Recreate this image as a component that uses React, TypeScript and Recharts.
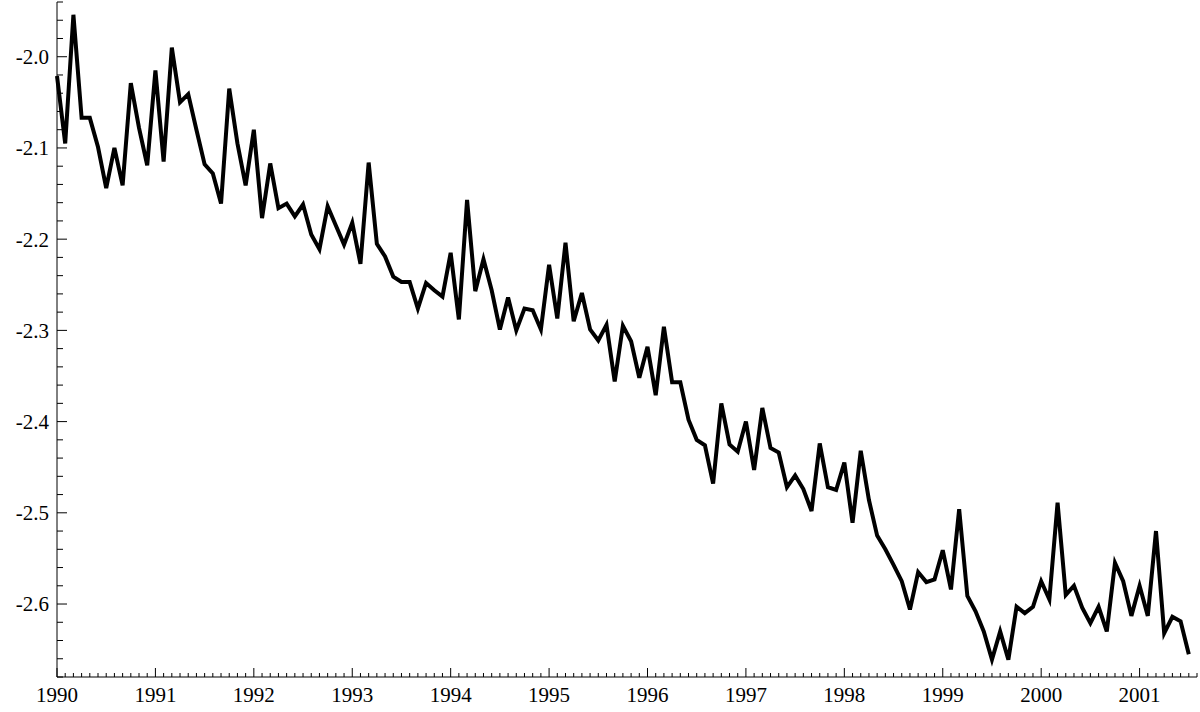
import React from 'react';
import { LineChart, Line, XAxis, YAxis } from 'recharts';

// monthly values, one array per year (Jan..Dec)
const y1990 = [-2.021, -2.095, -1.954, -2.067, -2.067, -2.099, -2.144, -2.100, -2.141, -2.029, -2.078, -2.119];
const y1991 = [-2.015, -2.115, -1.990, -2.050, -2.041, -2.080, -2.118, -2.128, -2.161, -2.035, -2.095, -2.141];
const y1992 = [-2.080, -2.177, -2.117, -2.166, -2.161, -2.175, -2.162, -2.195, -2.211, -2.164, -2.185, -2.206];
const y1993 = [-2.182, -2.227, -2.116, -2.205, -2.219, -2.241, -2.247, -2.247, -2.276, -2.248, -2.256, -2.263];
const y1994 = [-2.215, -2.288, -2.157, -2.257, -2.222, -2.256, -2.299, -2.264, -2.300, -2.276, -2.278, -2.299];
const y1995 = [-2.228, -2.287, -2.204, -2.290, -2.259, -2.299, -2.311, -2.294, -2.356, -2.295, -2.312, -2.352];
const y1996 = [-2.318, -2.371, -2.296, -2.357, -2.357, -2.398, -2.420, -2.426, -2.468, -2.380, -2.425, -2.433];
const y1997 = [-2.400, -2.453, -2.385, -2.429, -2.434, -2.472, -2.459, -2.474, -2.498, -2.424, -2.472, -2.475];
const y1998 = [-2.445, -2.511, -2.432, -2.486, -2.525, -2.540, -2.557, -2.575, -2.606, -2.565, -2.576, -2.573];
const y1999 = [-2.541, -2.584, -2.496, -2.591, -2.608, -2.630, -2.661, -2.630, -2.661, -2.603, -2.610, -2.603];
const y2000 = [-2.575, -2.595, -2.489, -2.590, -2.580, -2.604, -2.621, -2.603, -2.630, -2.555, -2.575, -2.613];
const y2001 = [-2.580, -2.613, -2.520, -2.632, -2.614, -2.619, -2.655];

const startYear = 1990;
const years = [y1990, y1991, y1992, y1993, y1994, y1995, y1996, y1997, y1998, y1999, y2000, y2001];

const data = years.flatMap((vals, yi) =>
  vals.map((v, m) => ({ month: yi * 12 + m, value: v }))
);

const lastMonth = 139;
const xTicks = Array.from({ length: lastMonth + 1 }, (_, i) => i);

const yTicks: number[] = [];
for (let k = -268; k <= -194; k += 2) yTicks.push(k / 100);

const font = '"Liberation Serif", "Times New Roman", serif';

const XTick = (props: any) => {
  const { x, y, payload } = props;
  const i = payload.value as number;
  const major = i % 12 === 0;
  return (
    <g>
      <line x1={x} x2={x} y1={y} y2={y - (major ? 9 : 4)} stroke="#000" strokeWidth={1} />
      {major && (
        <text x={x} y={y + 25} textAnchor="middle" fontFamily={font} fontSize={21} fill="#000">
          {startYear + i / 12}
        </text>
      )}
    </g>
  );
};

const YTick = (props: any) => {
  const { x, y, payload } = props;
  const v = payload.value as number;
  const major = Math.round(v * 100) % 10 === 0;
  return (
    <g>
      <line x1={x} x2={x + (major ? 10 : 6)} y1={y} y2={y} stroke="#000" strokeWidth={1} />
      {major && (
        <text x={x - 8} y={y} dy="0.35em" textAnchor="end" fontFamily={font} fontSize={21} fill="#000">
          {v.toFixed(1)}
        </text>
      )}
    </g>
  );
};

export default function App() {
  return (
    <div style={{ position: 'absolute', left: 0, top: 0, background: '#fff' }}>
      <LineChart width={1200} height={712} data={data} margin={{ top: 2, right: 3, bottom: 0, left: 0 }}>
        <XAxis
          dataKey="month"
          type="number"
          domain={[0, lastMonth]}
          ticks={xTicks}
          interval={0}
          height={35}
          tickSize={0}
          tickMargin={0}
          tickLine={false}
          axisLine={{ stroke: '#000', strokeWidth: 1 }}
          tick={<XTick />}
        />
        <YAxis
          type="number"
          domain={[-2.68, -1.94]}
          ticks={yTicks}
          interval={0}
          width={57}
          tickSize={0}
          tickMargin={0}
          tickLine={false}
          allowDataOverflow
          axisLine={{ stroke: '#000', strokeWidth: 1 }}
          tick={<YTick />}
        />
        <Line
          type="linear"
          dataKey="value"
          stroke="#000"
          strokeWidth={4}
          dot={false}
          isAnimationActive={false}
        />
      </LineChart>
    </div>
  );
}
